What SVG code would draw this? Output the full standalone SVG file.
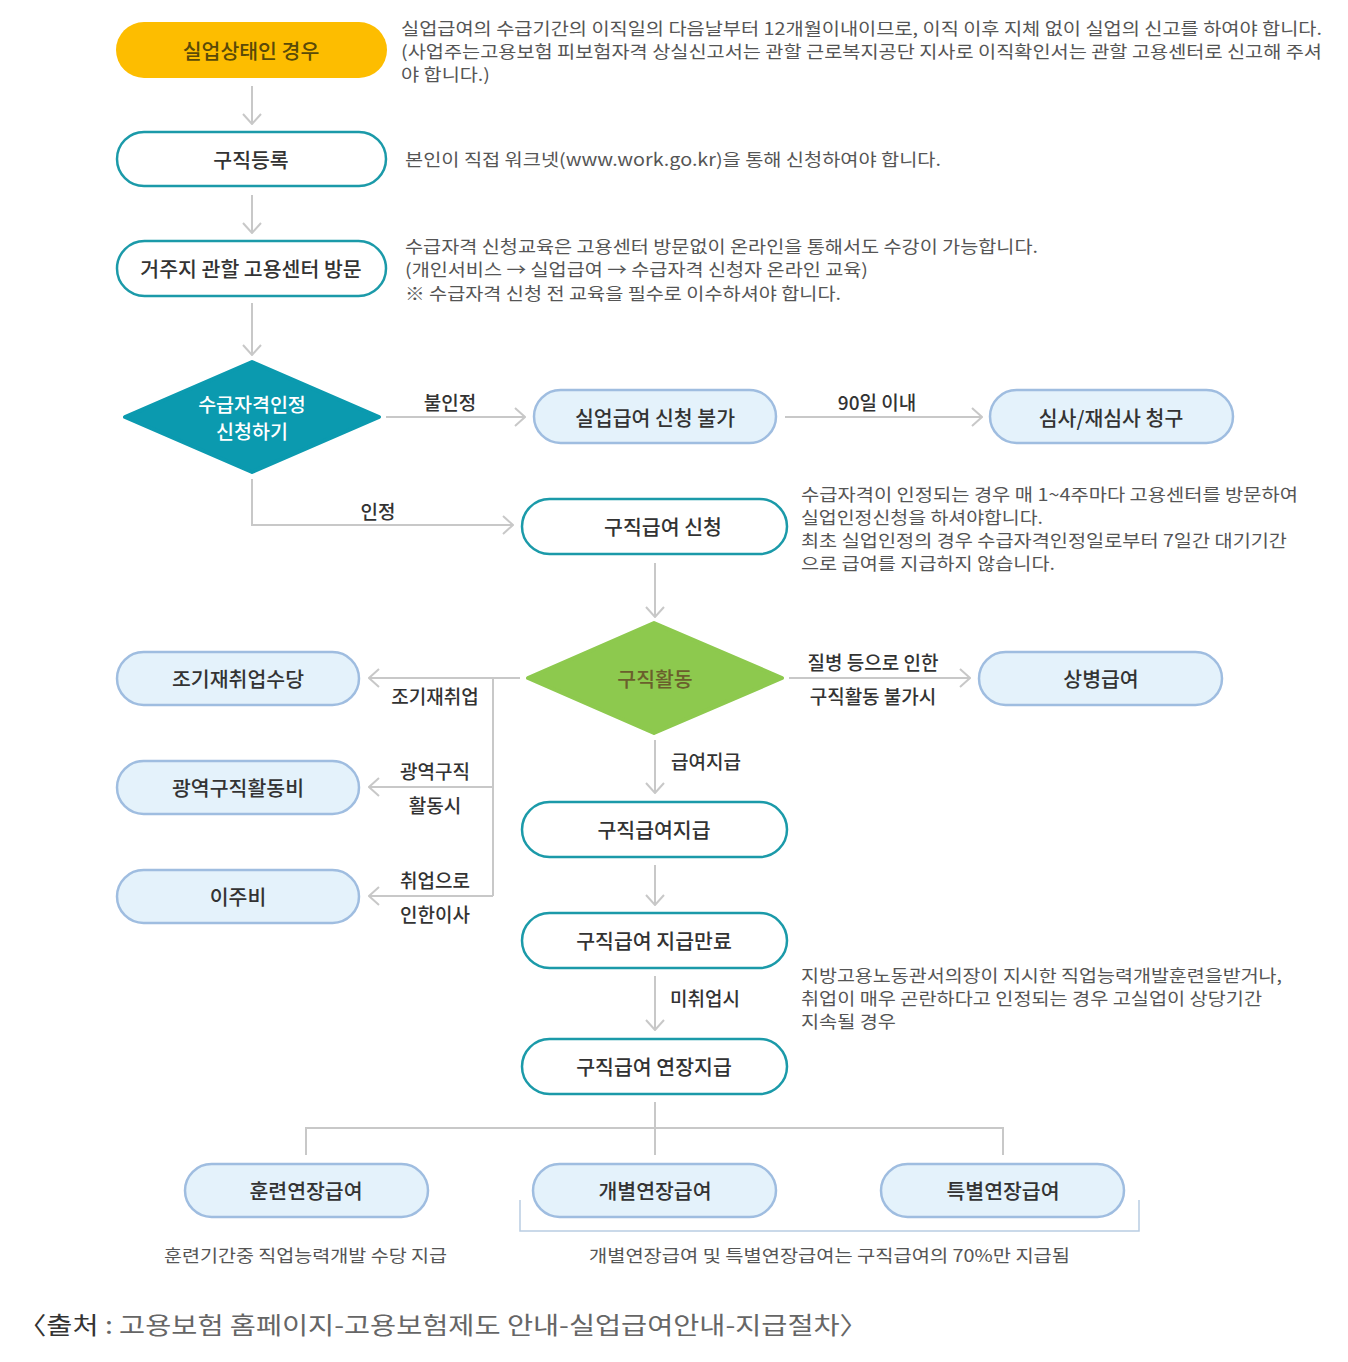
<svg xmlns="http://www.w3.org/2000/svg" width="1348" height="1362" viewBox="0 0 1348 1362">
<style>
text{font-family:"Noto Sans CJK KR","Noto Sans",sans-serif}
.nt{font-size:20.5px;fill:#333;text-anchor:middle;dominant-baseline:central;font-weight:500}
.dt{font-size:19.5px;fill:#fff;text-anchor:middle;dominant-baseline:central;font-weight:500}
.lb{font-size:19px;fill:#333;text-anchor:middle;dominant-baseline:central;font-weight:500}
.ds{font-size:17px;fill:#555;dominant-baseline:central}
.teal{fill:#fff;stroke:#1b9aa9;stroke-width:2.5}
.blue{fill:#e4f2fb;stroke:#9fbde0;stroke-width:2.5}
.cn{fill:none;stroke:#c8c8c8;stroke-width:2}
</style>
<defs>
<marker id="arr" viewBox="0 0 12 20" refX="11" refY="10" markerWidth="12" markerHeight="20" orient="auto" markerUnits="userSpaceOnUse">
<path d="M1,1 L11,10 L1,19" fill="none" stroke="#c8c8c8" stroke-width="2"/>
</marker>
</defs>
<rect width="1348" height="1362" fill="#fff"/>

<g id="connectors">
<line class="cn" x1="252" y1="86" x2="252" y2="124" marker-end="url(#arr)"/>
<line class="cn" x1="252" y1="195" x2="252" y2="233" marker-end="url(#arr)"/>
<line class="cn" x1="252" y1="303" x2="252" y2="355" marker-end="url(#arr)"/>
<line class="cn" x1="386" y1="417" x2="525" y2="417" marker-end="url(#arr)"/>
<line class="cn" x1="785" y1="417" x2="982" y2="417" marker-end="url(#arr)"/>
<polyline class="cn" points="252,479 252,525 513,525" marker-end="url(#arr)"/>
<line class="cn" x1="655" y1="563" x2="655" y2="617" marker-end="url(#arr)"/>
<line class="cn" x1="520" y1="678" x2="369" y2="678" marker-end="url(#arr)"/>
<line class="cn" x1="493" y1="678" x2="493" y2="896"/>
<line class="cn" x1="493" y1="787" x2="369" y2="787" marker-end="url(#arr)"/>
<line class="cn" x1="493" y1="896" x2="369" y2="896" marker-end="url(#arr)"/>
<line class="cn" x1="789" y1="678" x2="970" y2="678" marker-end="url(#arr)"/>
<line class="cn" x1="655" y1="740" x2="655" y2="793" marker-end="url(#arr)"/>
<line class="cn" x1="655" y1="865" x2="655" y2="905" marker-end="url(#arr)"/>
<line class="cn" x1="655" y1="976" x2="655" y2="1030" marker-end="url(#arr)"/>
<line class="cn" x1="655" y1="1102" x2="655" y2="1155"/>
<polyline class="cn" points="306,1155 306,1128 1003,1128 1003,1155"/>
<polyline fill="none" stroke="#b9cde2" stroke-width="1.5" points="520,1200 520,1231 1139,1231 1139,1200"/>
<text class="lb" x="450" y="401">불인정</text>
<text class="lb" x="877" y="401">90일 이내</text>
<text class="lb" x="378" y="510">인정</text>
<text class="lb" x="435" y="695">조기재취업</text>
<text class="lb" x="435" y="770">광역구직</text>
<text class="lb" x="435" y="804">활동시</text>
<text class="lb" x="435" y="879">취업으로</text>
<text class="lb" x="435" y="913">인한이사</text>
<text class="lb" x="873" y="661">질병 등으로 인한</text>
<text class="lb" x="873" y="695">구직활동 불가시</text>
<text class="lb" x="706" y="760">급여지급</text>
<text class="lb" x="705" y="997">미취업시</text>
</g>

<g id="n-start">
<rect x="116" y="22" width="271" height="56" rx="28" fill="#fdbd00"/>
<text class="nt" x="251" y="50" style="fill:#5a4a08">실업상태인 경우</text>
</g>
<g id="n-register">
<rect class="teal" x="117" y="132" width="269" height="54" rx="27"/>
<text class="nt" x="251" y="159">구직등록</text>
</g>
<g id="n-visit">
<rect class="teal" x="117" y="241" width="269" height="55" rx="27.5"/>
<text class="nt" x="251" y="268">거주지 관할 고용센터 방문</text>
</g>
<g id="n-qualify">
<polygon points="125,417 252,362 379,417 252,472" fill="#0b9aaf" stroke="#0b9aaf" stroke-width="4" stroke-linejoin="round"/>
<text class="dt" x="252" y="403">수급자격인정</text>
<text class="dt" x="252" y="430">신청하기</text>
</g>
<g id="n-reject">
<rect class="blue" x="534" y="390" width="242" height="53" rx="26.5"/>
<text class="nt" x="655" y="417">실업급여 신청 불가</text>
</g>
<g id="n-review">
<rect class="blue" x="990" y="390" width="243" height="53" rx="26.5"/>
<text class="nt" x="1111" y="417">심사/재심사 청구</text>
</g>
<g id="n-apply">
<rect class="teal" x="522" y="499" width="265" height="55" rx="27.5"/>
<text class="nt" x="663" y="526">구직급여 신청</text>
</g>
<g id="n-search">
<polygon points="528,678 654,623 782,678 654,733" fill="#8dc94e" stroke="#8dc94e" stroke-width="4" stroke-linejoin="round"/>
<text class="nt" x="655" y="678" style="fill:#6a5f2c">구직활동</text>
</g>
<g id="n-sick">
<rect class="blue" x="979" y="652" width="243" height="53" rx="26.5"/>
<text class="nt" x="1101" y="678">상병급여</text>
</g>
<g id="n-early">
<rect class="blue" x="117" y="652" width="242" height="53" rx="26.5"/>
<text class="nt" x="238" y="678">조기재취업수당</text>
</g>
<g id="n-wide">
<rect class="blue" x="117" y="761" width="242" height="53" rx="26.5"/>
<text class="nt" x="238" y="787">광역구직활동비</text>
</g>
<g id="n-move">
<rect class="blue" x="117" y="870" width="242" height="53" rx="26.5"/>
<text class="nt" x="238" y="896">이주비</text>
</g>
<g id="n-pay">
<rect class="teal" x="522" y="802" width="265" height="55" rx="27.5"/>
<text class="nt" x="654" y="829">구직급여지급</text>
</g>
<g id="n-end">
<rect class="teal" x="522" y="913" width="265" height="55" rx="27.5"/>
<text class="nt" x="654" y="940">구직급여 지급만료</text>
</g>
<g id="n-extend">
<rect class="teal" x="522" y="1039" width="265" height="55" rx="27.5"/>
<text class="nt" x="654" y="1066">구직급여 연장지급</text>
</g>
<g id="n-train">
<rect class="blue" x="185" y="1164" width="243" height="53" rx="26.5"/>
<text class="nt" x="306" y="1190">훈련연장급여</text>
</g>
<g id="n-indiv">
<rect class="blue" x="533" y="1164" width="243" height="53" rx="26.5"/>
<text class="nt" x="655" y="1190">개별연장급여</text>
</g>
<g id="n-special">
<rect class="blue" x="881" y="1164" width="243" height="53" rx="26.5"/>
<text class="nt" x="1003" y="1190">특별연장급여</text>
</g>

<g id="notes">
<text class="ds" x="401" y="27" textLength="921" lengthAdjust="spacingAndGlyphs">실업급여의 수급기간의 이직일의 다음날부터 12개월이내이므로, 이직 이후 지체 없이 실업의 신고를 하여야 합니다.</text>
<text class="ds" x="401" y="50" textLength="921" lengthAdjust="spacingAndGlyphs">(사업주는고용보험 피보험자격 상실신고서는 관할 근로복지공단 지사로 이직확인서는 관할 고용센터로 신고해 주셔</text>
<text class="ds" x="401" y="73" textLength="89" lengthAdjust="spacingAndGlyphs">야 합니다.)</text>
<text class="ds" x="405" y="158" textLength="536" lengthAdjust="spacingAndGlyphs">본인이 직접 워크넷(www.work.go.kr)을 통해 신청하여야 합니다.</text>
<text class="ds" x="405" y="245" textLength="633" lengthAdjust="spacingAndGlyphs">수급자격 신청교육은 고용센터 방문없이 온라인을 통해서도 수강이 가능합니다.</text>
<text class="ds" x="405" y="268" textLength="463" lengthAdjust="spacingAndGlyphs">(개인서비스 → 실업급여 → 수급자격 신청자 온라인 교육)</text>
<text class="ds" x="405" y="292" textLength="436" lengthAdjust="spacingAndGlyphs">※ 수급자격 신청 전 교육을 필수로 이수하셔야 합니다.</text>
<text class="ds" x="801" y="493" textLength="497" lengthAdjust="spacingAndGlyphs">수급자격이 인정되는 경우 매 1~4주마다 고용센터를 방문하여</text>
<text class="ds" x="801" y="516" textLength="242" lengthAdjust="spacingAndGlyphs">실업인정신청을 하셔야합니다.</text>
<text class="ds" x="801" y="539" textLength="486" lengthAdjust="spacingAndGlyphs">최초 실업인정의 경우 수급자격인정일로부터 7일간 대기기간</text>
<text class="ds" x="801" y="562" textLength="254" lengthAdjust="spacingAndGlyphs">으로 급여를 지급하지 않습니다.</text>
<text class="ds" x="801" y="974" textLength="481" lengthAdjust="spacingAndGlyphs">지방고용노동관서의장이 지시한 직업능력개발훈련을받거나,</text>
<text class="ds" x="801" y="997" textLength="461" lengthAdjust="spacingAndGlyphs">취업이 매우 곤란하다고 인정되는 경우 고실업이 상당기간</text>
<text class="ds" x="801" y="1020" textLength="95" lengthAdjust="spacingAndGlyphs">지속될 경우</text>
<text class="ds" x="164" y="1254" textLength="283" lengthAdjust="spacingAndGlyphs">훈련기간중 직업능력개발 수당 지급</text>
<text class="ds" x="589" y="1254" textLength="481" lengthAdjust="spacingAndGlyphs">개별연장급여 및 특별연장급여는 구직급여의 70%만 지급됨</text>
<text x="18" y="1323" font-size="24" dominant-baseline="central" textLength="850" lengthAdjust="spacingAndGlyphs" fill="#666"><tspan fill="#333">〈출처</tspan> : 고용보험 홈페이지-고용보험제도 안내-실업급여안내-지급절차〉</text>
</g>
</svg>
